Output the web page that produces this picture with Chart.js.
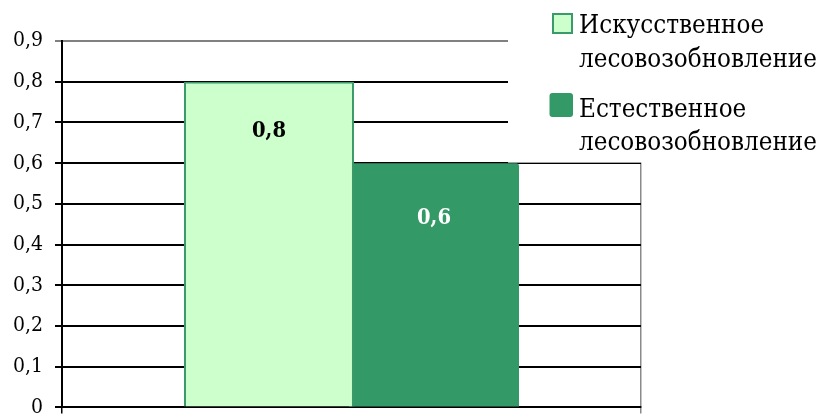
<!DOCTYPE html>
<html>
<head>
<meta charset="utf-8">
<script src="https://cdn.jsdelivr.net/npm/chart.js@4.4.0/dist/chart.umd.min.js"></script>
<style>
  html, body { margin: 0; padding: 0; background: #fff; width: 822px; height: 414px; overflow: hidden; }
  canvas { display: block; }
</style>
</head>
<body>
<canvas id="c" width="822" height="430"></canvas>
<script>
const categories = [''];
const seriesLabels = ['Искусственное лесовозобновление', 'Естественное лесовозобновление'];
const artificialValues = [0.8];
const naturalValues = [0.6];
const yMin = 0;
const yMax = 0.9;
const yStep = 0.1;

const lightFill = '#CCFFCC';
const darkFill = '#339966';
const borderGreen = '#3A9A69';
const serif = '"DejaVu Serif Condensed", "DejaVu Serif", serif';
Chart.defaults.font.family = serif;

const mctx = document.createElement('canvas').getContext('2d');
function fitSize(text, targetWidth, weight) {
  mctx.font = (weight || '') + ' 100px ' + serif;
  return 100 * targetWidth / mctx.measureText(text).width;
}
const tickSize = fitSize('0,9', 30);
const dataLabelSize = fitSize('0,8', 34, 'bold');
const legendSize = fitSize('лесовозобновление', 238);

function fmt(v) {
  const r = Math.round(v * 10) / 10;
  return r === 0 ? '0' : r.toFixed(1).replace('.', ',');
}

const overlayPlugin = {
  id: 'overlay',
  beforeDatasetsDraw(chart) {
    const ctx = chart.ctx;
    const y = chart.scales.y;
    ctx.save();
    ctx.fillStyle = '#fff';
    ctx.fillRect(508, 0, chart.width - 508, y.getPixelForValue(0.6) - 0.5);
    ctx.restore();
  },
  afterDatasetsDraw(chart) {
    const ctx = chart.ctx;
    ctx.save();
    const labelColors = ['#000', '#fff'];
    const labelOffsets = [50, 55];
    chart.data.datasets.forEach((ds, di) => {
      const meta = chart.getDatasetMeta(di);
      meta.data.forEach((bar, i) => {
        ctx.font = 'bold ' + dataLabelSize + 'px ' + serif;
        ctx.fillStyle = labelColors[di];
        ctx.textAlign = 'center';
        ctx.textBaseline = 'middle';
        ctx.fillText(fmt(ds.data[i]), bar.x, bar.y + labelOffsets[di]);
      });
    });
    const tops = [14, 93];
    const baselines = [[33, 67], [117, 150]];
    chart.data.datasets.forEach((ds, di) => {
      if (di === 0) {
        ctx.fillStyle = ds.backgroundColor;
        ctx.fillRect(553, tops[di], 19, 19);
        ctx.strokeStyle = ds.borderColor;
        ctx.lineWidth = 2;
        ctx.strokeRect(553, tops[di], 19, 19);
      } else {
        ctx.fillStyle = ds.backgroundColor;
        ctx.beginPath();
        ctx.roundRect(549.5, tops[di], 23.5, 24, 3);
        ctx.fill();
      }
      ctx.fillStyle = '#000';
      ctx.font = legendSize + 'px ' + serif;
      ctx.textAlign = 'left';
      ctx.textBaseline = 'alphabetic';
      const lines = ds.label.split(' ');
      lines.forEach((ln, li) => ctx.fillText(ln, 579, baselines[di][li]));
    });
    ctx.restore();
  }
};

function makeConfig() {
  return {
    type: 'bar',
    data: {
      labels: categories,
      datasets: [
        {
          label: seriesLabels[0],
          data: artificialValues,
          backgroundColor: lightFill,
          borderColor: borderGreen,
          borderWidth: 2,
          borderSkipped: 'bottom'
        },
        {
          label: seriesLabels[1],
          data: naturalValues,
          backgroundColor: darkFill,
          borderColor: darkFill,
          borderWidth: 0,
          borderRadius: { topLeft: 3, topRight: 3, bottomLeft: 0, bottomRight: 0 },
          borderSkipped: 'bottom'
        }
      ]
    },
    options: {
      responsive: false,
      maintainAspectRatio: false,
      animation: false,
      devicePixelRatio: 1,
      categoryPercentage: 0.570,
      barPercentage: 1.03,
      layout: { padding: { left: 0, right: 181, top: 41, bottom: 13 } },
      plugins: { legend: { display: false }, tooltip: { enabled: false } },
      scales: {
        x: {
          offset: true,
          ticks: { display: false },
          grid: {
            offset: true,
            drawOnChartArea: true,
            drawTicks: true,
            tickLength: 6,
            color: (c) => c.index === 0 ? '#000' : '#8a8a8a',
            lineWidth: 1.5
          },
          border: { display: true, color: '#000', width: 2 }
        },
        y: {
          min: yMin,
          max: yMax,
          afterFit: (s) => { s.width = 62; },
          ticks: {
            stepSize: yStep,
            padding: 12,
            color: '#000',
            font: { family: serif, size: tickSize },
            callback: (v) => fmt(v)
          },
          grid: {
            color: (c) => (c.tick && Math.abs(c.tick.value - yMax) < 1e-9) ? '#808080' : '#000',
            lineWidth: 2,
            tickLength: 7,
            drawTicks: true
          },
          border: { display: true, color: '#000', width: 2 }
        }
      }
    },
    plugins: [overlayPlugin]
  };
}

const canvas = document.getElementById('c');
let chart = new Chart(canvas, makeConfig());
// make the canvas taller than the viewport so the zero line sits at the reference position
const targetBottom = 407;
const offset = chart.height - chart.chartArea.bottom;
chart.destroy();
const newH = Math.round(targetBottom + offset);
canvas.width = 822;
canvas.height = newH;
canvas.style.width = '822px';
canvas.style.height = newH + 'px';
chart = new Chart(canvas, makeConfig());
</script>
</body>
</html>
